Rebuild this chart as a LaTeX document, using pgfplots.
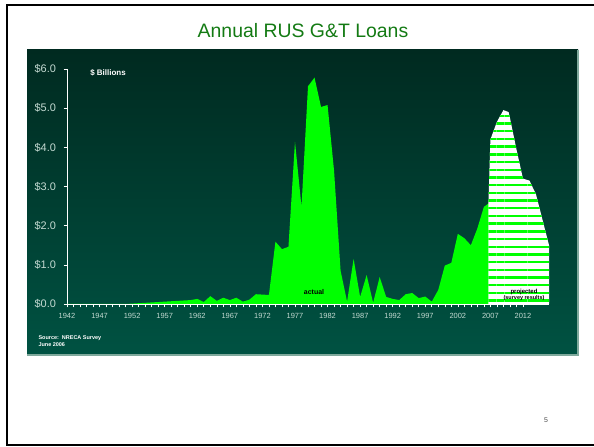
\documentclass[border=0pt]{standalone}
\usepackage{fontspec}
\setmainfont{Liberation Sans}
\usepackage{pgfplots}
\pgfplotsset{compat=1.18}
\usetikzlibrary{patterns.meta}

\definecolor{titlegreen}{HTML}{137A13}
\definecolor{bright}{HTML}{00FF00}
\definecolor{paneltop}{HTML}{002A20}
\definecolor{panelbot}{HTML}{005242}
\definecolor{panelrim}{HTML}{7FA99C}
\definecolor{ticktext}{HTML}{C4DAD2}

\begin{document}
\begin{tikzpicture}[x=1bp,y=1bp]
\path[use as bounding box] (0,0) rectangle (594,447);
% slide frame
\draw[line width=2.2bp] (7,442) -- (7,2) (6,442) -- (594,442) (6,2) -- (594,2);
% title
\node[text=titlegreen, font=\fontsize{19.5}{22}\selectfont] at (303,416) {Annual RUS G\&T Loans};
% dark panel
\shade[top color=paneltop, bottom color=panelbot] (27,397) rectangle (578,92);
\draw[panelrim, line width=1.2bp] (27,92) -- (578,92) -- (578,397);

\begin{axis}[
  at={(67bp,143bp)}, anchor=south west,
  scale only axis, width=482bp, height=235bp,
  xmin=1942, xmax=2016, ymin=0, ymax=6,
  axis x line*=bottom, axis y line*=left,
  axis line style={white, line width=0.8bp, -},
  xtick={1942,1947,...,2012}, minor x tick num=4,
  ytick={0,1,2,3,4,5,6},
  yticklabels={\$0.0,\$1.0,\$2.0,\$3.0,\$4.0,\$5.0,\$6.0},
  tick align=outside, major tick length=3.5bp, minor tick length=3.5bp,
  every tick/.style={white, line width=0.6bp},
  /pgf/number format/assume math mode=true,
  xticklabel style={/pgf/number format/1000 sep={}, text=ticktext,
    font=\fontsize{7.5}{8}\selectfont, yshift=-2bp},
  yticklabel style={text=ticktext, font=\fontsize{11}{12}\selectfont, xshift=-4bp},
  clip=false,
]
% actual loans ($ billions)
\addplot[fill=bright, draw=none] coordinates {
  (1942,0)(1951,0)(1952,0.01)(1953,0.02)(1954,0.03)(1955,0.04)(1956,0.05)
  (1957,0.06)(1958,0.07)(1959,0.08)(1960,0.09)(1961,0.1)(1962,0.13)
  (1963,0.05)(1964,0.2)(1965,0.08)(1966,0.16)(1967,0.1)(1968,0.16)
  (1969,0.06)(1970,0.11)(1971,0.25)(1972,0.24)(1973,0.23)(1974,1.59)
  (1975,1.4)(1976,1.46)(1977,4.14)(1978,2.48)(1979,5.56)(1980,5.78)
  (1981,5.03)(1982,5.08)(1983,3.4)(1984,0.85)(1985,0.06)(1986,1.15)
  (1987,0.18)(1988,0.74)(1989,0.03)(1990,0.69)(1991,0.18)(1992,0.13)
  (1993,0.1)(1994,0.25)(1995,0.28)(1996,0.15)(1997,0.19)(1998,0.06)
  (1999,0.36)(2000,0.98)(2001,1.05)(2002,1.79)(2003,1.68)(2004,1.5)
  (2005,1.93)(2006,2.48)(2007,2.6)
} \closedcycle;
% projected (survey results)
\addplot[fill=white, draw=none] coordinates {
  (2006.7,2.6)(2007,4.2)(2008,4.65)(2009,4.95)(2009.8,4.9)(2010,4.75)
  (2011,3.95)(2012,3.2)(2013,3.15)(2014,2.8)(2015,2.15)(2016,1.5)
} \closedcycle;
\addplot[draw=none, pattern={Lines[angle=0, distance=7.7bp, line width=2.4bp]},
  pattern color=bright] coordinates {
  (2006.7,2.6)(2007,4.2)(2008,4.65)(2009,4.95)(2009.8,4.9)(2010,4.75)
  (2011,3.95)(2012,3.2)(2013,3.15)(2014,2.8)(2015,2.15)(2016,1.5)
} \closedcycle;
\end{axis}

% annotations
\node[text=white, font=\bfseries\fontsize{8}{9}\selectfont] at (108,374) {\$ Billions};
\node[font=\bfseries\fontsize{7}{8}\selectfont] at (314,155) {actual};
\node[font=\bfseries\fontsize{6}{7}\selectfont, align=center] at (524,152)
  {projected\\[-1.5bp]{\fontsize{5.5}{6}\selectfont(survey results)}};
\node[anchor=west, text=white, font=\bfseries\fontsize{5.5}{6.5}\selectfont, align=left]
  at (35,106) {Source:\ \ NRECA Survey\\June 2006};
\node[text=black!70, font=\fontsize{7}{8}\selectfont] at (546,27) {5};
\end{tikzpicture}
\end{document}
